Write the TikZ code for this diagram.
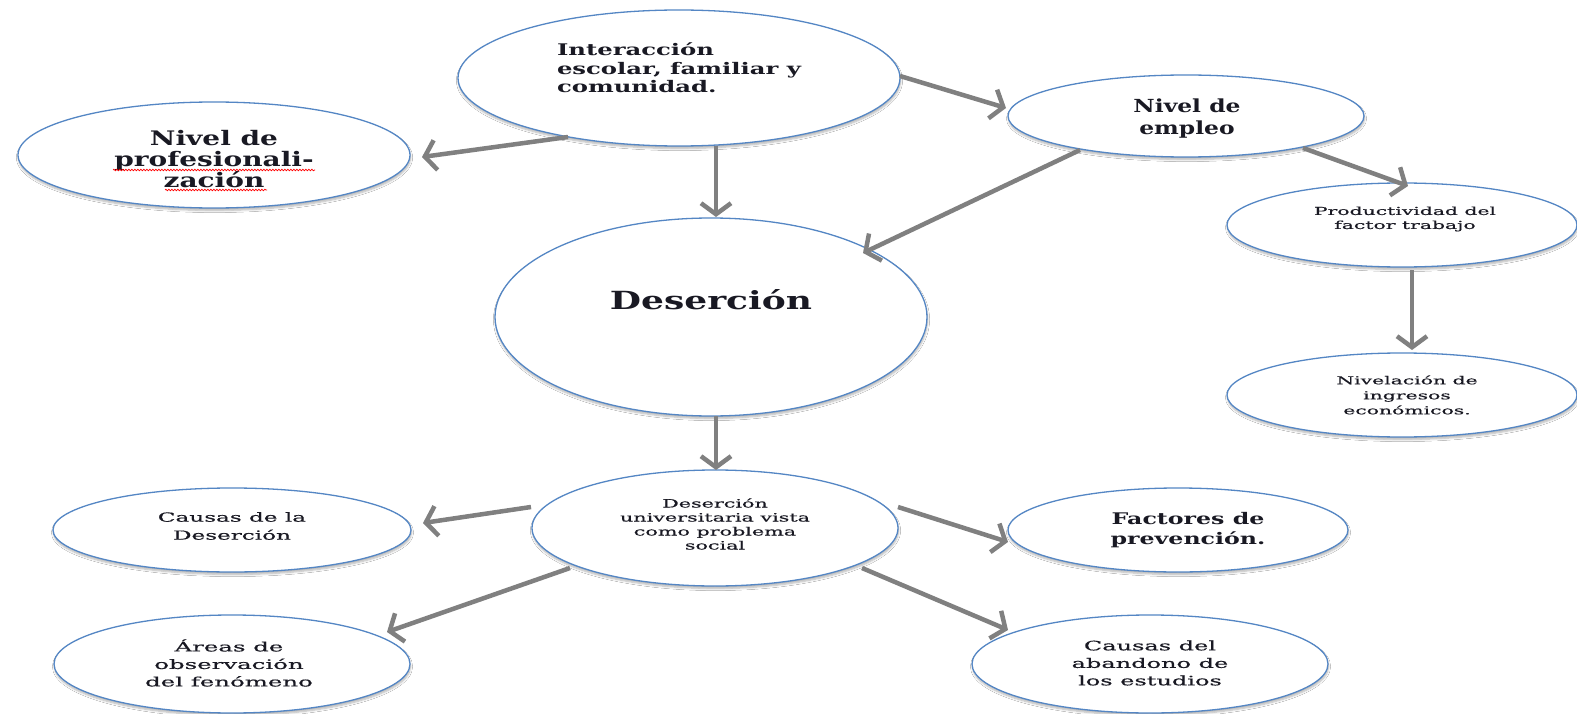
\documentclass[tikz,border=0pt]{standalone}
\usepackage{fontspec}
\setmainfont{DejaVu Serif}
\usetikzlibrary{arrows.meta,shapes.geometric,shadows.blur,decorations.pathmorphing,calc}
\definecolor{ebord}{RGB}{84,134,196}
\definecolor{agray}{RGB}{128,128,128}
\definecolor{tcol}{RGB}{25,25,35}
\newcommand\ftx[3]{\fontsize{#1}{#2}\selectfont\addfontfeatures{FakeStretch=#3}}
\newcommand\fts[3]{\fontsize{#1}{#2}\selectfont\addfontfeatures{FakeStretch=#3,FakeBold=0.5}}
\begin{document}
\begin{tikzpicture}[x=1pt,y=-1pt,
  oval/.style={draw=ebord, line width=1.3pt, fill=white, ellipse, inner sep=0pt,
    blur shadow={shadow xshift=0.5pt, shadow yshift=-2.5pt, shadow blur steps=6, shadow opacity=30}},
  lbl/.style={text=tcol, align=center, inner sep=0pt},
  arr/.style={draw=agray, line width=4.5pt, -{Straight Barb[length=11pt,width=30pt]}},
  squig/.style={draw=red, line width=0.7pt, decorate, decoration={snake, amplitude=0.8pt, segment length=3pt}}]
\fill[white] (0,0) rectangle (1577,714);
\useasboundingbox (0,0) rectangle (1577,714);

% ellipses
\node[oval, minimum width=442pt, minimum height=136pt] (int) at (679,78) {};
\node[oval, minimum width=392pt, minimum height=106pt] (prof) at (214,155) {};
\node[oval, minimum width=356pt, minimum height=82pt] (emp) at (1186,116) {};
\node[oval, minimum width=350pt, minimum height=84pt] (prod) at (1402,225) {};
\node[oval, minimum width=432pt, minimum height=198pt] (des) at (711,317) {};
\node[oval, minimum width=350pt, minimum height=84pt] (niv) at (1402,395) {};
\node[oval, minimum width=366pt, minimum height=116pt] (du) at (715,528) {};
\node[oval, minimum width=358pt, minimum height=84pt] (cd) at (232,530) {};
\node[oval, minimum width=340pt, minimum height=84pt] (fact) at (1178,530) {};
\node[oval, minimum width=356pt, minimum height=98pt] (areas) at (232,664) {};
\node[oval, minimum width=356pt, minimum height=98pt] (aband) at (1150,664) {};

% texts
\node[lbl, align=left, font={\bfseries\ftx{16}{18.5}{1.52}}] (intT) at ($(int)+(0,-10)$) {Interacción\\escolar, familiar y\\comunidad.};
\node[lbl, font={\bfseries\ftx{20}{21}{1.4}}] (profT) at ($(prof)+(0,4)$) {Nivel de\\profesionali-\\zación};
\node[lbl, font={\bfseries\ftx{18}{22}{1.3}}] (empT) at ($(emp)+(1,3)$) {Nivel de\\empleo};
\node[lbl, font={\bfseries\ftx{25}{28}{1.44}}] (desT) at ($(des)+(0,-17)$) {Deserción};
\node[lbl, font={\fts{11}{14}{1.85}}] (prodT) at ($(prod)+(3,-6)$) {Productividad del\\factor trabajo};
\node[lbl, font={\fts{11}{15}{1.85}}] (nivT) at ($(niv)+(5,0)$) {Nivelación de\\ingresos\\económicos.};
\node[lbl, font={\fts{11.5}{14}{1.8}}] (duT) at ($(du)+(0,-4)$) {Deserción\\universitaria vista\\como problema\\social};
\node[lbl, font={\fts{12.5}{18}{1.85}}] (cdT) at ($(cd)+(0,-4)$) {Causas de la\\Deserción};
\node[lbl, font={\bfseries\ftx{16}{20}{1.48}}] (factT) at ($(fact)+(10,0)$) {Factores de\\prevención.};
\node[lbl, font={\fts{13}{17.5}{1.88}}] (areasT) at ($(areas)+(-3,-1)$) {Áreas de\\observación\\del fenómeno};
\node[lbl, font={\fts{13}{17.5}{1.85}}] (abandT) at ($(aband)+(0,-1)$) {Causas del\\abandono de\\los estudios};

% spell-check squiggles
\draw[squig] ($(prof)+(-101,15)$) -- ($(prof)+(101,15)$);
\draw[squig] ($(prof)+(-49,35)$) -- ($(prof)+(53,35)$);

% arrows
\draw[arr] ($(int)+(-111,59)$) -- ($(prof)+(208,2)$);
\draw[arr] ($(int)+(37,68)$) -- ($(des)+(5,-100)$);
\draw[arr] ($(int)+(221,-2)$) -- ($(emp)+(-180,-8)$);
\draw[arr] ($(emp)+(-106,34)$) -- ($(des)+(152,-64)$);
\draw[arr] ($(emp)+(117,32)$) -- ($(prod)+(6,-39)$);
\draw[arr] ($(prod)+(10,45)$) -- ($(niv)+(10,-45)$);
\draw[arr] ($(des)+(5,99)$) -- ($(du)+(1,-58)$);
\draw[arr] ($(du)+(-184,-21)$) -- ($(cd)+(191,-7)$);
\draw[arr] ($(du)+(183,-21)$) -- ($(fact)+(-170,12)$);
\draw[arr] ($(du)+(-145,40)$) -- ($(areas)+(155,-32)$);
\draw[arr] ($(du)+(147,40)$) -- ($(aband)+(-142,-34)$);
\end{tikzpicture}
\end{document}
